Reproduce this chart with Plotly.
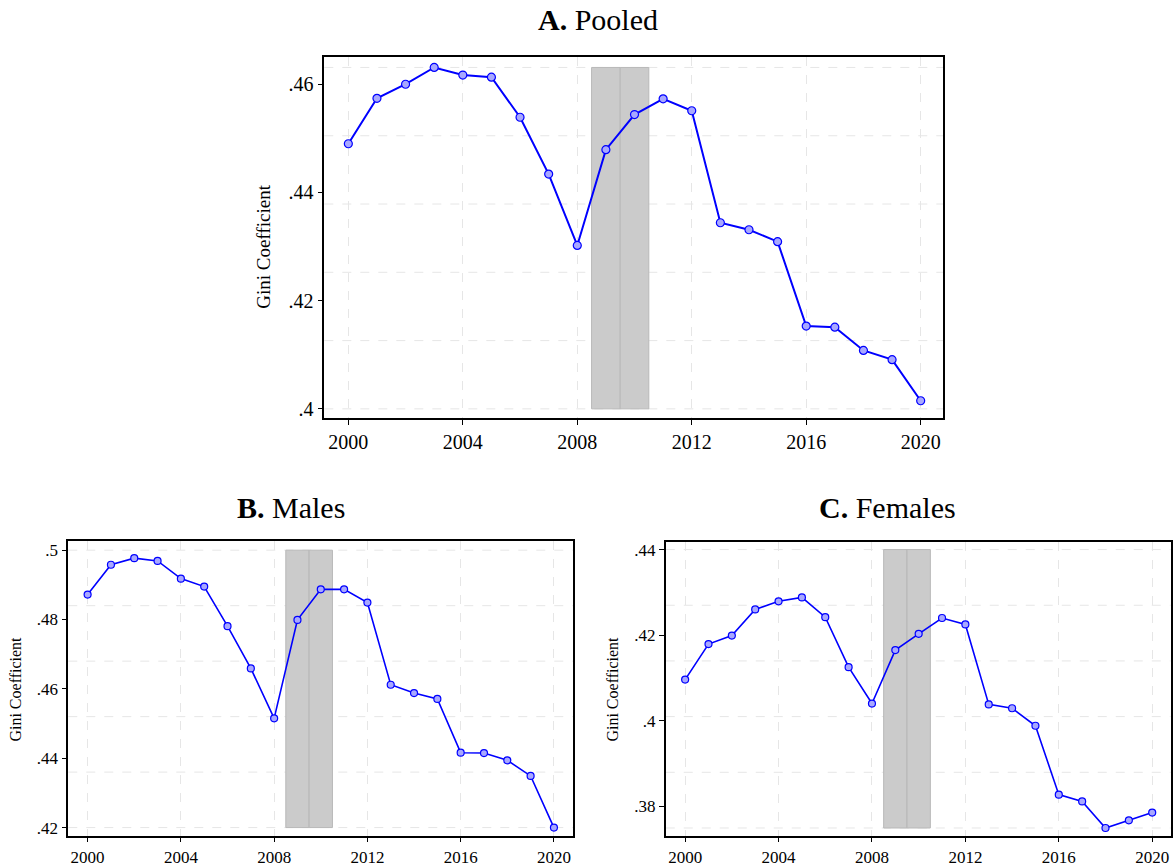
import plotly.graph_objects as go

years = list(range(2000, 2021))

pooled = [0.4490, 0.4574, 0.4600, 0.4631, 0.4617, 0.4613, 0.4539, 0.4434, 0.4302,
          0.4479, 0.4544, 0.4573, 0.4551, 0.4344, 0.4331, 0.4309, 0.4153, 0.4151,
          0.4108, 0.4091, 0.4015]
males = [0.4872, 0.4958, 0.4977, 0.4969, 0.4918, 0.4895, 0.4781, 0.4659, 0.4515,
         0.4799, 0.4887, 0.4887, 0.4849, 0.4612, 0.4588, 0.4571, 0.4416, 0.4415,
         0.4394, 0.4349, 0.4200]
females = [0.4096, 0.4179, 0.4199, 0.4260, 0.4279, 0.4288, 0.4242, 0.4125, 0.4040,
           0.4165, 0.4203, 0.4240, 0.4225, 0.4038, 0.4029, 0.3988, 0.3827, 0.3811,
           0.3749, 0.3767, 0.3785]

x_ticks = [2000, 2004, 2008, 2012, 2016, 2020]
pooled_yticks = [0.40, 0.42, 0.44, 0.46]
pooled_ylabels = [".4", ".42", ".44", ".46"]
males_yticks = [0.42, 0.44, 0.46, 0.48, 0.50]
males_ylabels = [".42", ".44", ".46", ".48", ".5"]
females_yticks = [0.38, 0.40, 0.42, 0.44]
females_ylabels = [".38", ".4", ".42", ".44"]

# recession band (years) and vertical extent per panel
band_years = [2008.5, 2009.5, 2010.5]
pooled_band = [0.4000, 0.4631]
males_band = [0.4200, 0.5000]
females_band = [0.3749, 0.4400]

titles = ["<b>A.</b> Pooled", "<b>B.</b> Males", "<b>C.</b> Females"]
ytitle = "Gini Coefficient"

FONT = "Liberation Serif"
BLUE = "#0000ff"

panels = [
    dict(y=pooled, ax="", yt=pooled_yticks, yl=pooled_ylabels, band=pooled_band,
         xdom=[0.2760, 0.8028], ydom=[0.5148, 0.9346], xr=[1999.16, 2020.79],
         yr=[0.39835, 0.4650], tick=20, msize=8, lw=2.0,
         title=(0.509, 0.979), ytitle=(264, 248), tsize=19),
    dict(y=males, ax="2", yt=males_yticks, yl=males_ylabels, band=males_band,
         xdom=[0.0581, 0.4879], ydom=[0.0285, 0.3714], xr=[1999.17, 2020.83],
         yr=[0.41771, 0.50266], tick=17, msize=7, lw=1.6,
         title=(0.2477, 0.4106), ytitle=(16, 695), tsize=16),
    dict(y=females, ax="3", yt=females_yticks, yl=females_ylabels, band=females_band,
         xdom=[0.5666, 0.9963], ydom=[0.0285, 0.3706], xr=[1999.17, 2020.79],
         yr=[0.37314, 0.44185], tick=17, msize=7, lw=1.6,
         title=(0.7557, 0.4106), ytitle=(613, 695), tsize=16),
]

fig = go.Figure()
shapes = []
annotations = []
layout_axes = {}

for i, p in enumerate(panels):
    xa = "x" + p["ax"]
    ya = "y" + p["ax"]
    fig.add_trace(go.Scatter(
        x=years, y=p["y"], mode="lines+markers", xaxis=xa, yaxis=ya,
        line=dict(color=BLUE, width=p["lw"]),
        marker=dict(symbol="circle", size=p["msize"], color="#a8a8ff",
                    line=dict(color=BLUE, width=1.2)),
        showlegend=False, hoverinfo="x+y"))

    # horizontal dashed grid lines (5 equal divisions of band extent)
    lo, hi = p["band"]
    for k in range(6):
        gv = lo + (hi - lo) * k / 5
        shapes.append(dict(type="line", xref=f"{xa} domain", yref=ya,
                           x0=0, x1=1, y0=gv, y1=gv, layer="below",
                           line=dict(color="#e6e6e6", width=1, dash="dash")))
    # recession band (two adjacent rectangles)
    for a, b in zip(band_years[:-1], band_years[1:]):
        shapes.append(dict(type="rect", xref=xa, yref=ya, x0=a, x1=b, y0=lo, y1=hi,
                           layer="between", fillcolor="#cbcbcb",
                           line=dict(color="#b8b8b8", width=1)))

    axis_common = dict(showline=True, mirror=True, linecolor="black", linewidth=1.5,
                       ticks="outside", ticklen=5, tickcolor="black", tickwidth=1,
                       zeroline=False,
                       tickfont=dict(family=FONT, size=p["tick"], color="black"))
    layout_axes["xaxis" + p["ax"]] = dict(
        domain=p["xdom"], range=p["xr"], anchor=ya, tickvals=x_ticks,
        ticktext=[str(v) for v in x_ticks], showgrid=True, gridcolor="#e6e6e6",
        griddash="dash", gridwidth=1, **axis_common)
    layout_axes["yaxis" + p["ax"]] = dict(
        domain=p["ydom"], range=p["yr"], anchor=xa, tickvals=p["yt"],
        ticktext=p["yl"], showgrid=False, **axis_common)

    annotations.append(dict(text=titles[i], x=p["title"][0], y=p["title"][1],
                            xref="paper", yref="paper", showarrow=False,
                            xanchor="center", yanchor="middle",
                            font=dict(family=FONT, size=30, color="black")))
    annotations.append(dict(text=ytitle, x=p["ytitle"][0] / 1175,
                            y=1 - p["ytitle"][1] / 867, xref="paper", yref="paper",
                            showarrow=False, textangle=-90, xanchor="center",
                            yanchor="middle",
                            font=dict(family=FONT, size=p["tsize"], color="black")))

fig.update_layout(
    width=1175, height=867, margin=dict(l=0, r=0, t=0, b=0),
    paper_bgcolor="white", plot_bgcolor="white",
    shapes=shapes, annotations=annotations, **layout_axes)

fig.write_html("out.html")
